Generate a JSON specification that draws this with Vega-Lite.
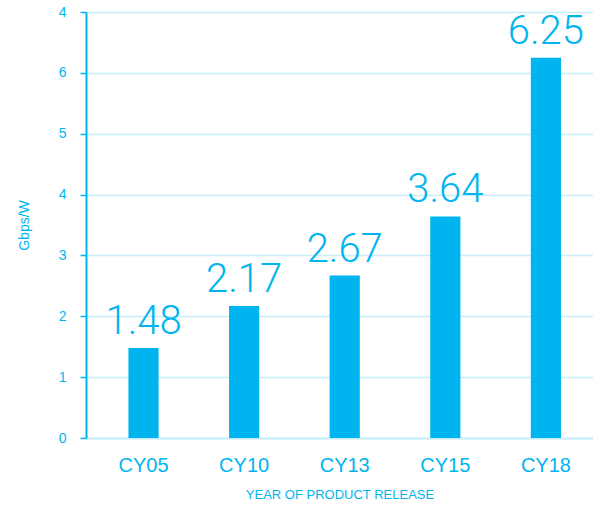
{
  "$schema": "https://vega.github.io/schema/vega-lite/v6.json",
  "width": 507,
  "height": 426,
  "autosize": "none",
  "padding": {"left": 86, "top": 12, "right": 0, "bottom": 67},
  "background": "white",
  "config": {"view": {"stroke": null}, "font": "Liberation Sans"},
  "data": {
    "values": [
      {"year": "CY05", "value": 1.48},
      {"year": "CY10", "value": 2.17},
      {"year": "CY13", "value": 2.67},
      {"year": "CY15", "value": 3.64},
      {"year": "CY18", "value": 6.25}
    ]
  },
  "encoding": {
    "x": {
      "field": "year",
      "type": "nominal",
      "sort": null,
      "scale": {"paddingInner": 0.7, "paddingOuter": 0.37, "align": 0.57},
      "axis": {
        "title": "YEAR OF PRODUCT RELEASE",
        "titleColor": "#00b5ef",
        "titleFontSize": 13,
        "titleFontWeight": "normal",
        "titlePadding": 13,
        "labelAngle": 0,
        "labelColor": "#00b5ef",
        "labelFontSize": 20,
        "labelPadding": 17,
        "ticks": false,
        "domainColor": "#c8eefa",
        "domainWidth": 2
      }
    },
    "y": {
      "field": "value",
      "type": "quantitative",
      "scale": {"domain": [0, 7], "nice": false},
      "axis": {
        "title": "Gbps/W",
        "titleColor": "#00b5ef",
        "titleFontSize": 14,
        "titleFontWeight": "normal",
        "titlePadding": 27,
        "values": [0, 1, 2, 3, 4, 5, 6, 7],
        "labelExpr": "datum.value == 7 ? '4' : datum.label",
        "labelColor": "#00b5ef",
        "labelFontSize": 14,
        "labelPadding": 14,
        "tickColor": "#00b5ef",
        "tickSize": 6,
        "tickWidth": 1.5,
        "domainColor": "#00b5ef",
        "domainWidth": 2,
        "grid": true,
        "gridColor": "#c8eefa",
        "gridWidth": 1.5
      }
    }
  },
  "layer": [
    {"mark": {"type": "bar", "color": "#00b5ef"}},
    {
      "mark": {"type": "text", "color": "#00b5ef", "fontSize": 40, "font": "Roboto", "fontWeight": 300, "baseline": "bottom", "dy": -6},
      "encoding": {"text": {"field": "value", "type": "quantitative", "format": ".2f"}}
    }
  ]
}
